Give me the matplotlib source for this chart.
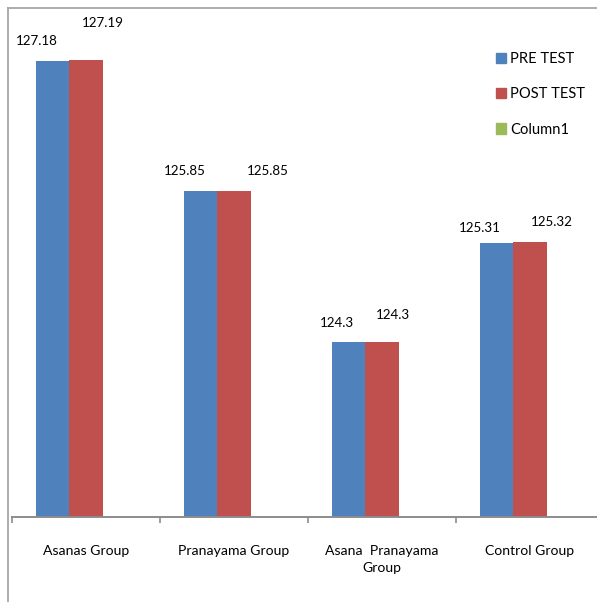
import matplotlib.pyplot as plt
import numpy as np
from matplotlib.lines import Line2D
from matplotlib.patches import Patch

plt.rcParams["font.family"] = ["Lato", "DejaVu Sans"]

groups = ["Asanas Group", "Pranayama Group", "Asana  Pranayama\nGroup", "Control Group"]
pre_test = [127.18, 125.85, 124.3, 125.31]
post_test = [127.19, 125.85, 124.3, 125.32]
column1 = [np.nan, np.nan, np.nan, np.nan]

# label nudges in pixels (dx, dy) from each bar's top centre
pre_offsets = [(-16, 20), (-16, 20), (-12, 19), (-17, 15)]
post_offsets = [(17, 37), (34, 20), (11, 27), (22, 20)]

BLUE = "#4F81BD"
RED = "#C0504D"
GREEN = "#9BBB59"
GREY = "#8C8C8C"

W, H = 597, 602
fig = plt.figure(figsize=(W / 100, H / 100), dpi=100)
ax = fig.add_axes([12 / W, (H - 517) / H, 592 / W, 509 / H])

x = np.arange(len(groups))
w = 33.5 / 148

b1 = ax.bar(x - w, pre_test, w, color=BLUE, label="PRE TEST")
b2 = ax.bar(x, post_test, w, color=RED, label="POST TEST")
ax.bar(x + w, column1, w, color=GREEN, label="Column1")

fs = 9.6
for bars, vals, offs in [(b1, pre_test, pre_offsets), (b2, post_test, post_offsets)]:
    for bar, v, (dx, dy) in zip(bars, vals, offs):
        ax.annotate(f"{v:g}", (bar.get_x() + bar.get_width() / 2, v),
                    xytext=(dx, dy), textcoords="offset pixels",
                    ha="center", va="center", fontsize=fs)

ax.set_xlim(-0.5, 3.5)
ax.set_ylim(122.5, 122.5 + 509 / 97.45)

for s in ["left", "right", "top"]:
    ax.spines[s].set_visible(False)
ax.spines["bottom"].set_color(GREY)
ax.spines["bottom"].set_linewidth(1.4)
ax.set_yticks([])

ax.set_xticks(x)
ax.set_xticklabels(groups, fontsize=10.1, linespacing=1.5)
ax.tick_params(axis="x", which="major", length=0, pad=20)
ax.set_xticks(np.arange(-0.5, 4.0, 1.0), minor=True)
ax.tick_params(axis="x", which="minor", length=4, width=1.2, color=GREY, direction="out")

handles = [Patch(color=BLUE), Patch(color=RED), Patch(color=GREEN)]
fig.legend(handles, ["PRE TEST", "POST TEST", "Column1"], loc="upper left",
           bbox_to_anchor=(496 / W, 1 - 52 / H), frameon=False, fontsize=10.6,
           handlelength=0.7, handleheight=0.7, handletextpad=0.25,
           labelspacing=1.45, borderpad=0, borderaxespad=0)

# outer chart border (left and top edges)
fig.add_artist(Line2D([8 / W, 8 / W], [0, 1 - 8 / H], color="#A6A6A6", lw=1.3,
                      transform=fig.transFigure))
fig.add_artist(Line2D([8 / W, 1], [1 - 8 / H, 1 - 8 / H], color="#A6A6A6", lw=1.3,
                      transform=fig.transFigure))

fig.savefig("out.png", dpi=100)
